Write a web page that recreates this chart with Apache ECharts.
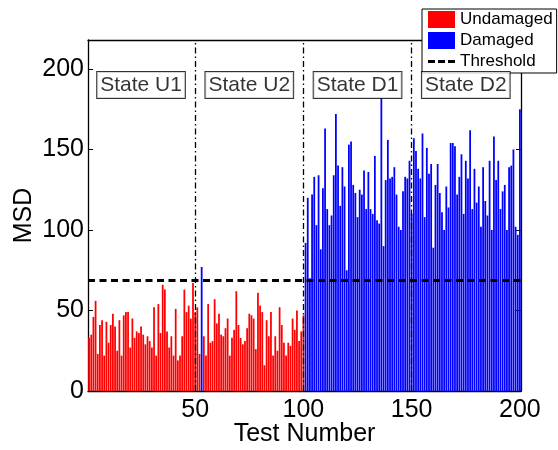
<!DOCTYPE html>
<html><head><meta charset="utf-8">
<script src="https://cdn.jsdelivr.net/npm/echarts@6/dist/echarts.min.js"></script>
<style>html,body{margin:0;padding:0;background:#fff}#c{width:558px;height:450px}</style>
</head><body><div id="c"></div>
<script>
// MSD values per test, grouped by state (tests 1-50, 51-100, 101-150, 151-200)
const msdU1 = [33,35,46,56,23,41,44,22,43,30,41,48,40,25,44,22,47,49,49,27,45,33,37,36,40,
               35,29,34,31,27,52,22,54,36,66,63,37,27,34,22,51,19,22,34,63,49,53,45,67,49];
const msdU2 = [52,23,77,34,22,54,30,31,57,42,48,35,34,39,45,22,33,38,62,41,33,29,31,39,48,
               47,45,26,61,53,49,16,44,34,49,22,34,25,52,41,30,22,30,28,45,38,50,31,37,47];
const msdD1 = [92,120,70,122,133,103,134,88,126,163,113,103,109,134,172,140,115,139,127,75,153,155,128,123,108,
               125,122,137,113,136,113,110,146,106,104,182,90,131,156,132,133,139,122,102,100,124,133,132,143,110];
const msdD2 = [157,149,138,132,160,108,151,135,141,89,128,141,123,111,100,127,114,154,154,152,122,133,147,110,143,132,
               162,113,138,117,127,102,139,118,109,143,100,158,131,143,113,124,128,100,139,140,150,102,97,175];
const threshold = 69;
const xTicks = [50,100,150,200];
const yTicks = [0,50,100,150,200];
const stateNames = ['State U1','State U2','State D1','State D2'];
const stateCenters = ['25','75','125','175'];
const stateBoundaries = ['50','100','150'];

const msd = [].concat(msdU1, msdU2, msdD1, msdD2);
const categories = msd.map((_, i) => String(i + 1));
const undamaged = msd.map(v => v <= threshold ? v : '-');
const damaged = msd.map(v => v > threshold ? v : '-');

const font = '"Liberation Sans", Arial, Helvetica, sans-serif';
const chart = echarts.init(document.getElementById('c'), null, {renderer: 'canvas'});
const tickFn = (i, v) => xTicks.indexOf(+v) >= 0;
const axisLineStyle = {color: '#000', width: 1.3};
const dashIcon = 'path://M0,0L0.01,0L0.01,0.01Z M0,7h7v3h-7z M10,7h7v3h-7z M20,7h7v3h-7z M26.99,17L27,17L27,16.99Z';

chart.setOption({
  animation: false,
  textStyle: {fontFamily: font},
  grid: {left: 88, right: 37, top: 40, bottom: 59, containLabel: false, outerBoundsMode: 'none'},
  legend: {
    left: 422, top: 9, orient: 'vertical',
    padding: [2, 4, 3, 6], itemGap: 4, itemWidth: 27, itemHeight: 17,
    borderColor: '#000', borderWidth: 1, borderRadius: 0, backgroundColor: '#fff',
    textStyle: {fontSize: 17, color: '#000', fontFamily: font},
    selectedMode: false,
    data: [{name: 'Undamaged', icon: 'rect'}, {name: 'Damaged', icon: 'rect'},
           {name: 'Threshold', icon: dashIcon, itemStyle: {color: '#000'}}]
  },
  xAxis: [{
    type: 'category', data: categories, boundaryGap: true,
    axisLine: {onZero: false, lineStyle: axisLineStyle},
    axisTick: {inside: true, length: 5, alignWithLabel: true, interval: tickFn, lineStyle: {color: '#000'}},
    axisLabel: {interval: tickFn, color: '#000', fontSize: 25, margin: 7, fontFamily: font},
    splitLine: {show: false},
    name: 'Test Number', nameLocation: 'middle', nameGap: 31, nameMoveOverlap: false,
    nameTextStyle: {fontSize: 25, color: '#000', fontFamily: font}
  }, {
    type: 'category', data: categories, boundaryGap: true, position: 'top',
    axisLine: {onZero: false, lineStyle: axisLineStyle},
    axisTick: {inside: true, length: 5, alignWithLabel: true, interval: tickFn, lineStyle: {color: '#000'}},
    axisLabel: {show: false}, splitLine: {show: false}
  }],
  yAxis: [{
    type: 'value', min: 0, max: 218, interval: 50,
    axisLine: {show: true, onZero: false, lineStyle: axisLineStyle},
    axisTick: {show: true, inside: true, length: 5, lineStyle: {color: '#000'}},
    axisLabel: {color: '#000', fontSize: 25, margin: 4, showMaxLabel: false, fontFamily: font,
                formatter: v => yTicks.indexOf(v) >= 0 ? String(v) : ''},
    splitLine: {show: false},
    name: 'MSD', nameLocation: 'middle', nameGap: 51, nameRotate: 90, nameMoveOverlap: false,
    nameTextStyle: {fontSize: 25, color: '#000', fontFamily: font}
  }, {
    type: 'value', min: 0, max: 218, interval: 50, position: 'right',
    axisLine: {show: true, onZero: false, lineStyle: axisLineStyle},
    axisTick: {show: true, inside: true, length: 5, lineStyle: {color: '#000'}},
    axisLabel: {show: false}, splitLine: {show: false}
  }],
  series: [{
    name: 'Undamaged', type: 'bar', data: undamaged,
    barGap: '-100%', barCategoryGap: '18%',
    itemStyle: {color: '#ff0000'}
  }, {
    name: 'Damaged', type: 'bar', data: damaged,
    barGap: '-100%', barCategoryGap: '18%',
    itemStyle: {color: '#0000ff'}
  }, {
    name: 'Threshold', type: 'line', data: [], symbol: 'none', z: 5,
    lineStyle: {color: '#000', width: 3, type: [6, 4]},
    itemStyle: {color: '#000'},
    markLine: {
      silent: true, symbol: ['none', 'none'], label: {show: false}, animation: false,
      data: [
        {yAxis: threshold, lineStyle: {color: '#000', width: 3, type: [7, 4.5]}}
      ].concat(stateBoundaries.map(b => ({xAxis: b, lineStyle: {color: '#000', width: 1.3, type: [6, 3, 1.5, 3]}})))
    }
  }, {
    name: 'States', type: 'scatter', z: 10, symbolSize: 1,
    itemStyle: {color: 'rgba(0,0,0,0)'},
    data: stateCenters.map((c, i) => ({value: [c, 190], name: stateNames[i]})),
    label: {
      show: true, position: 'inside', formatter: p => p.name,
      fontSize: 21, color: '#000', fontFamily: font,
      backgroundColor: '#fff', borderColor: '#000', borderWidth: 1,
      padding: [2, 3, 2, 3], lineHeight: 22
    }
  }]
});
</script>
</body></html>
